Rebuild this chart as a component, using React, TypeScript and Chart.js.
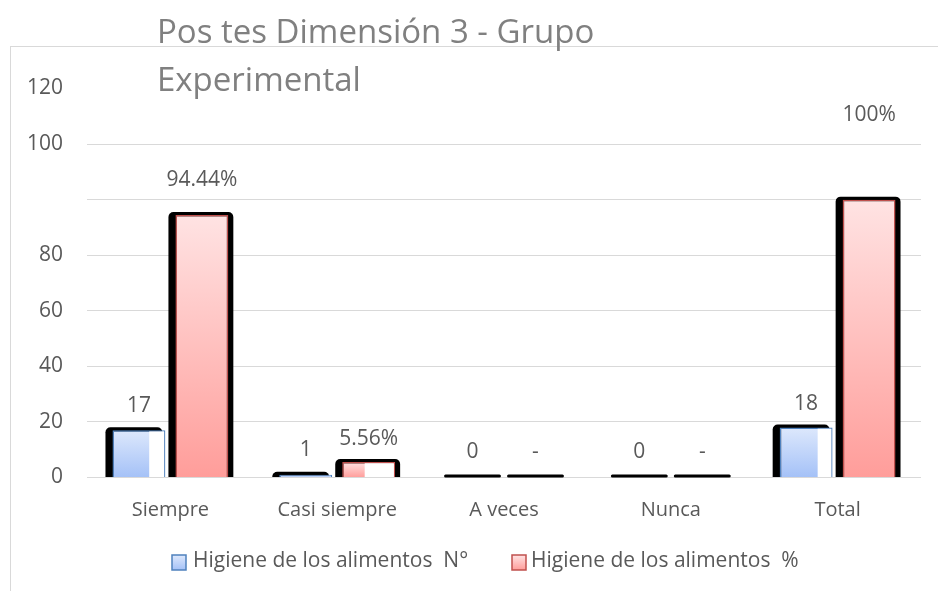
import React, { useEffect, useRef } from "react";
import { Chart, registerables } from "chart.js";

Chart.register(...registerables);

// ---- data ----
const categories = ["Siempre", "Casi siempre", "A veces", "Nunca", "Total"];
const countValues = [17, 1, 0, 0, 18];
const percentValues = [94.44, 5.56, 0, 0, 100];
const countLabels = ["17", "1", "0", "0", "18"];
const percentLabels = ["94.44%", "5.56%", "-", "-", "100%"];
const yTickLabels = ["0", "20", "40", "60", "80", "", "100", "120"];
const seriesNames = ["Higiene de los alimentos  N°", "Higiene de los alimentos  %"];
const titleLines = ["Pos tes Dimensión 3 - Grupo", "Experimental"];

// ---- styles ----
const FONT = "'Open Sans', sans-serif";
const TEXT = "#595959";
const TITLE = "#808080";
const GRID = "#d9d9d9";
const BLUE = { top: "#dde8fc", bottom: "#a4c1f7", border: "#4f81bd" };
const RED = { top: "#ffe3e3", bottom: "#ff9d9a", border: "#c0504d" };
const PALETTE = [BLUE, RED];
const LABEL_LIFT = [
  [24, 25, 25, 25, 23],
  [35, 23, 25, 25, 85],
];
const SHADOW_RIGHT = [-3, 5];

function barGradient(colors: { top: string; bottom: string }) {
  return (ctx: any) => {
    const chart = ctx.chart;
    const { chartArea, scales } = chart;
    if (!chartArea || ctx.type !== "data" || !scales.y) return colors.bottom;
    const v = ctx.raw as number;
    const top = scales.y.getPixelForValue(v);
    const base = scales.y.getPixelForValue(0);
    if (!(base - top > 1)) return colors.bottom;
    const g = chart.ctx.createLinearGradient(0, top, 0, base);
    g.addColorStop(0, colors.top);
    g.addColorStop(1, colors.bottom);
    return g;
  };
}

const decor = {
  id: "excelDecor",
  beforeDraw(chart: any) {
    const ctx = chart.ctx;
    ctx.save();
    ctx.strokeStyle = GRID;
    ctx.lineWidth = 1;
    ctx.strokeRect(10.5, 46.5, chart.width + 20, chart.height + 20);
    ctx.restore();
  },
  beforeDatasetsDraw(chart: any) {
    const ctx = chart.ctx;
    ctx.save();
    ctx.fillStyle = "#000";
    chart.data.datasets.forEach((_: any, di: number) => {
      const meta = chart.getDatasetMeta(di);
      meta.data.forEach((bar: any) => {
        const { x, y, base, width } = bar.getProps(["x", "y", "base", "width"], true);
        const left = x - width / 2;
        ctx.beginPath();
        if (base - y < 1) {
          ctx.roundRect(left - 2, base - 3, width + 4, 3, 1.5);
        } else {
          ctx.roundRect(left - 7, y - 3, width + 7 + SHADOW_RIGHT[di], base - y + 3, [5, 5, 0, 0]);
        }
        ctx.fill();
      });
    });
    ctx.restore();
  },
  afterDatasetsDraw(chart: any) {
    const ctx = chart.ctx;
    ctx.save();
    chart.data.datasets.forEach((_: any, di: number) => {
      const meta = chart.getDatasetMeta(di);
      const texts = di === 0 ? countLabels : percentLabels;
      meta.data.forEach((bar: any, i: number) => {
        const { x, y, base, width } = bar.getProps(["x", "y", "base", "width"], true);
        const h = base - y;
        if (h > 5 && h < 80) {
          const frac = Math.max(0, Math.min(1, 0.68 - 0.0085 * h));
          const ww = width * frac;
          ctx.fillStyle = "#ffffff";
          ctx.fillRect(x + width / 2 - 1.2 - ww, y + 1.2, ww, h - 1.2);
        }
        ctx.fillStyle = TEXT;
        ctx.font = `21px ${FONT}`;
        ctx.textAlign = "center";
        ctx.textBaseline = "middle";
        ctx.fillText(texts[i], x, y - LABEL_LIFT[di][i]);
      });
    });
    ctx.restore();
  },
  afterDraw(chart: any) {
    const ctx = chart.ctx;
    ctx.save();
    // title
    ctx.fillStyle = TITLE;
    ctx.font = `33px ${FONT}`;
    ctx.textAlign = "left";
    ctx.textBaseline = "alphabetic";
    ctx.fillText(titleLines[0], 157, 43);
    ctx.fillText(titleLines[1], 157, 90.5);
    // legend
    const items = [
      { box: 172, text: 193 },
      { box: 512, text: 531 },
    ];
    items.forEach((it, di) => {
      const c = PALETTE[di];
      const g = ctx.createLinearGradient(0, 555, 0, 570);
      g.addColorStop(0, c.top);
      g.addColorStop(1, c.bottom);
      ctx.fillStyle = g;
      ctx.fillRect(it.box, 555, 14, 15);
      ctx.strokeStyle = c.border;
      ctx.lineWidth = 1.5;
      ctx.strokeRect(it.box, 555, 14, 15);
      ctx.fillStyle = TEXT;
      ctx.font = `21px ${FONT}`;
      ctx.textBaseline = "alphabetic";
      ctx.fillText(seriesNames[di], it.text, 567);
    });
    ctx.restore();
  },
};

export default function App() {
  const ref = useRef<HTMLCanvasElement | null>(null);
  useEffect(() => {
    if (!ref.current) return;
    const chart = new Chart(ref.current, {
      type: "bar",
      data: {
        labels: categories,
        datasets: [
          {
            label: seriesNames[0],
            data: countValues,
            backgroundColor: barGradient(BLUE),
            borderColor: BLUE.border,
            borderWidth: (c: any) => (c.raw ? 1.5 : 0),
            categoryPercentage: 0.755,
            barPercentage: 0.84,
          },
          {
            label: seriesNames[1],
            data: percentValues,
            backgroundColor: barGradient(RED),
            borderColor: RED.border,
            borderWidth: (c: any) => (c.raw ? 1.5 : 0),
            categoryPercentage: 0.755,
            barPercentage: 0.84,
          },
        ],
      },
      options: {
        responsive: false,
        animation: false,
        devicePixelRatio: 1,
        layout: { padding: { top: 88.5, right: 17, left: 0, bottom: 0 } },
        plugins: {
          legend: { display: false },
          title: { display: false },
          tooltip: { enabled: false },
        },
        scales: {
          x: {
            grid: { display: false, drawTicks: false },
            border: { display: false },
            ticks: {
              color: TEXT,
              font: { family: FONT, size: 20 },
              padding: 21,
              maxRotation: 0,
            },
            afterFit: (s: any) => {
              s.height = 113.5;
            },
          },
          y: {
            min: 0,
            max: 140,
            grid: {
              color: (c: any) => (c.tick && c.tick.value === 140 ? "rgba(0,0,0,0)" : GRID),
              drawTicks: false,
              lineWidth: 1,
            },
            border: { display: false },
            ticks: {
              stepSize: 20,
              color: TEXT,
              font: { family: FONT, size: 21 },
              padding: 24,
              callback: (_v: any, i: number) => yTickLabels[i],
            },
            afterFit: (s: any) => {
              s.width = 87;
            },
          },
        },
      },
      plugins: [decor],
    });
    return () => chart.destroy();
  }, []);
  return (
    <div style={{ position: "absolute", left: 0, top: 0, width: 938, height: 591, background: "#fff" }}>
      <canvas ref={ref} width={938} height={591} />
    </div>
  );
}
